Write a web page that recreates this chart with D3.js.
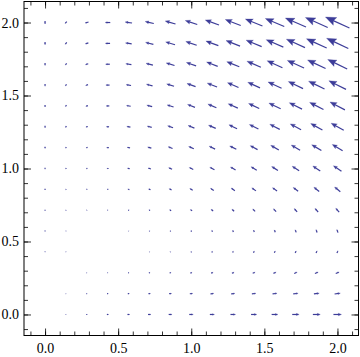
<!DOCTYPE html>
<html>
<head>
<meta charset="utf-8">
<script src="https://cdn.jsdelivr.net/npm/d3@7"></script>
<style>
  body { margin: 0; background: #fff; }
  svg { display: block; }
</style>
</head>
<body>
<svg id="chart" width="360" height="357"></svg>
<script>
// grid points where arrows sit
var xs = [0, 0.1429, 0.2857, 0.4286, 0.5714, 0.7143, 0.8571, 1.0, 1.1429, 1.2857, 1.4286, 1.5714, 1.7143, 1.8571, 2.0];
var ys = [0, 0.1429, 0.2857, 0.4286, 0.5714, 0.7143, 0.8571, 1.0, 1.1429, 1.2857, 1.4286, 1.5714, 1.7143, 1.8571, 2.0];

// horizontal component, one row per y (bottom to top)
var uRows = [
  [0, 0.6, 1.1, 1.7, 2.3, 2.9, 3.4, 4, 4.6, 5.1, 5.7, 6.3, 6.9, 7.4, 8],
  [0, 0.4, 0.8, 1.2, 1.6, 2.0, 2.4, 2.9, 3.3, 3.7, 4.1, 4.5, 4.9, 5.3, 5.7],
  [0, 0.2, 0.5, 0.7, 1.0, 1.2, 1.5, 1.7, 2.0, 2.2, 2.4, 2.7, 2.9, 3.2, 3.4],
  [0, 0.1, 0.2, 0.2, 0.3, 0.4, 0.5, 0.6, 0.7, 0.7, 0.8, 0.9, 1.0, 1.1, 1.1],
  [0, -0.1, -0.2, -0.2, -0.3, -0.4, -0.5, -0.6, -0.7, -0.7, -0.8, -0.9, -1.0, -1.1, -1.1],
  [0, -0.2, -0.5, -0.7, -1.0, -1.2, -1.5, -1.7, -2.0, -2.2, -2.4, -2.7, -2.9, -3.2, -3.4],
  [0, -0.4, -0.8, -1.2, -1.6, -2.0, -2.4, -2.9, -3.3, -3.7, -4.1, -4.5, -4.9, -5.3, -5.7],
  [0, -0.6, -1.1, -1.7, -2.3, -2.9, -3.4, -4, -4.6, -5.1, -5.7, -6.3, -6.9, -7.4, -8],
  [0, -0.7, -1.5, -2.2, -2.9, -3.7, -4.4, -5.1, -5.9, -6.6, -7.3, -8.1, -8.8, -9.6, -10.3],
  [0, -0.9, -1.8, -2.7, -3.6, -4.5, -5.4, -6.3, -7.2, -8.1, -9.0, -9.9, -10.8, -11.7, -12.6],
  [0, -1.1, -2.1, -3.2, -4.2, -5.3, -6.4, -7.4, -8.5, -9.6, -10.6, -11.7, -12.7, -13.8, -14.9],
  [0, -1.2, -2.4, -3.7, -4.9, -6.1, -7.3, -8.6, -9.8, -11.0, -12.2, -13.5, -14.7, -15.9, -17.1],
  [0, -1.4, -2.8, -4.2, -5.6, -6.9, -8.3, -9.7, -11.1, -12.5, -13.9, -15.3, -16.7, -18.0, -19.4],
  [0, -1.6, -3.1, -4.7, -6.2, -7.8, -9.3, -10.9, -12.4, -14.0, -15.5, -17.1, -18.6, -20.2, -21.7],
  [0, -1.7, -3.4, -5.1, -6.9, -8.6, -10.3, -12, -13.7, -15.4, -17.1, -18.9, -20.6, -22.3, -24]
];

// vertical component, same layout
var vRows = [
  [0, 0, 0, 0, 0, 0, 0, 0, 0, 0, 0, 0, 0, 0, 0],
  [-0.2, -0.1, -0.1, 0, 0.1, 0.1, 0.2, 0.3, 0.4, 0.4, 0.5, 0.6, 0.6, 0.7, 0.8],
  [-0.4, -0.3, -0.1, 0, 0.1, 0.3, 0.4, 0.6, 0.7, 0.9, 1.0, 1.1, 1.3, 1.4, 1.6],
  [-0.6, -0.4, -0.2, 0, 0.2, 0.4, 0.6, 0.9, 1.1, 1.3, 1.5, 1.7, 1.9, 2.1, 2.4],
  [-0.9, -0.6, -0.3, 0, 0.3, 0.6, 0.9, 1.1, 1.4, 1.7, 2.0, 2.3, 2.6, 2.9, 3.1],
  [-1.1, -0.7, -0.4, 0, 0.4, 0.7, 1.1, 1.4, 1.8, 2.1, 2.5, 2.9, 3.2, 3.6, 3.9],
  [-1.3, -0.9, -0.4, 0, 0.4, 0.9, 1.3, 1.7, 2.1, 2.6, 3.0, 3.4, 3.9, 4.3, 4.7],
  [-1.5, -1, -0.5, 0, 0.5, 1, 1.5, 2, 2.5, 3, 3.5, 4, 4.5, 5, 5.5],
  [-1.7, -1.1, -0.6, 0, 0.6, 1.1, 1.7, 2.3, 2.9, 3.4, 4.0, 4.6, 5.1, 5.7, 6.3],
  [-1.9, -1.3, -0.6, 0, 0.6, 1.3, 1.9, 2.6, 3.2, 3.9, 4.5, 5.1, 5.8, 6.4, 7.1],
  [-2.1, -1.4, -0.7, 0, 0.7, 1.4, 2.1, 2.9, 3.6, 4.3, 5.0, 5.7, 6.4, 7.1, 7.9],
  [-2.4, -1.6, -0.8, 0, 0.8, 1.6, 2.4, 3.1, 3.9, 4.7, 5.5, 6.3, 7.1, 7.9, 8.6],
  [-2.6, -1.7, -0.9, 0, 0.9, 1.7, 2.6, 3.4, 4.3, 5.1, 6.0, 6.9, 7.7, 8.6, 9.4],
  [-2.8, -1.9, -0.9, 0, 0.9, 1.9, 2.8, 3.7, 4.6, 5.6, 6.5, 7.4, 8.4, 9.3, 10.2],
  [-3, -2, -1, 0, 1, 2, 3, 4, 5, 6, 7, 8, 9, 10, 11]
];

var majorTicks = [0, 0.5, 1.0, 1.5, 2.0];
var minorTicks = d3.range(-0.1, 2.15, 0.1).map(function(d){ return +d.toFixed(1); });

var svg = d3.select("#chart"),
    margin = {top: 1.5, right: 1.5, bottom: 21.5, left: 24},
    width = +svg.attr("width") - margin.left - margin.right,
    height = +svg.attr("height") - margin.top - margin.bottom,
    g = svg.append("g").attr("transform", "translate(" + margin.left + "," + margin.top + ")");

var x = d3.scaleLinear().domain([-0.144, 2.144]).range([0, width]);
var y = d3.scaleLinear().domain([-0.144, 2.144]).range([height, 0]);

// arrow length in axis units per unit of field value
var arrowScale = 0.00685;
var arrowColor = "rgb(61,61,153)";

var arrows = [];
ys.forEach(function(yv, j){
  xs.forEach(function(xv, i){
    arrows.push({x: xv, y: yv, u: uRows[j][i], v: vRows[j][i]});
  });
});

function arrowPath(d) {
  var x0 = x(d.x - d.u * arrowScale / 2), y0 = y(d.y - d.v * arrowScale / 2);
  var x1 = x(d.x + d.u * arrowScale / 2), y1 = y(d.y + d.v * arrowScale / 2);
  var dx = x1 - x0, dy = y1 - y0, L = Math.sqrt(dx*dx + dy*dy);
  if (L < 0.4) return null;
  var ux = dx / L, uy = dy / L, px = -uy, py = ux;
  var hl = 0.4 * L, hw = 0.16 * L, notch = 0.07 * L;
  return {
    shaft: [[x0, y0], [x1 - ux*hl*0.7, y1 - uy*hl*0.7]],
    head: [
      [x1, y1],
      [x1 - ux*hl + px*hw, y1 - uy*hl + py*hw],
      [x1 - ux*(hl - notch), y1 - uy*(hl - notch)],
      [x1 - ux*hl - px*hw, y1 - uy*hl - py*hw]
    ]
  };
}

var field = g.append("g");
arrows.forEach(function(d){
  var a = arrowPath(d);
  if (!a) return;
  field.append("path")
    .attr("d", d3.line()(a.shaft))
    .attr("stroke", arrowColor)
    .attr("stroke-width", 1.2)
    .attr("fill", "none");
  field.append("path")
    .attr("d", d3.line()(a.head) + "Z")
    .attr("fill", arrowColor)
    .attr("stroke", arrowColor)
    .attr("stroke-width", 0.3);
});

// frame with inward ticks on all four sides
g.append("g").attr("transform", "translate(0," + height + ")")
  .call(d3.axisBottom(x).tickValues(minorTicks).tickSize(-4).tickFormat(""));
g.append("g").attr("transform", "translate(0," + height + ")")
  .call(d3.axisBottom(x).tickValues(majorTicks).tickSize(-7).tickPadding(7.5).tickFormat(d3.format(".1f")));
g.append("g")
  .call(d3.axisTop(x).tickValues(minorTicks).tickSize(-4).tickFormat(""));
g.append("g")
  .call(d3.axisTop(x).tickValues(majorTicks).tickSize(-7).tickFormat(""));
g.append("g")
  .call(d3.axisLeft(y).tickValues(minorTicks).tickSize(-4).tickFormat(""));
g.append("g")
  .call(d3.axisLeft(y).tickValues(majorTicks).tickSize(-7).tickPadding(5).tickFormat(d3.format(".1f")));
g.append("g").attr("transform", "translate(" + width + ",0)")
  .call(d3.axisRight(y).tickValues(minorTicks).tickSize(-4).tickFormat(""));
g.append("g").attr("transform", "translate(" + width + ",0)")
  .call(d3.axisRight(y).tickValues(majorTicks).tickSize(-7).tickFormat(""));

g.selectAll(".domain").remove();
g.selectAll(".tick line").attr("stroke", "#000").attr("stroke-width", 0.8);
g.selectAll(".tick text")
  .attr("fill", "#000")
  .style("font-family", "'Liberation Serif', 'Times New Roman', serif")
  .style("font-size", "14px");

g.append("rect")
  .attr("x", 0).attr("y", 0)
  .attr("width", width).attr("height", height)
  .attr("fill", "none")
  .attr("stroke", "#000")
  .attr("stroke-width", 1);
</script>
</body>
</html>
